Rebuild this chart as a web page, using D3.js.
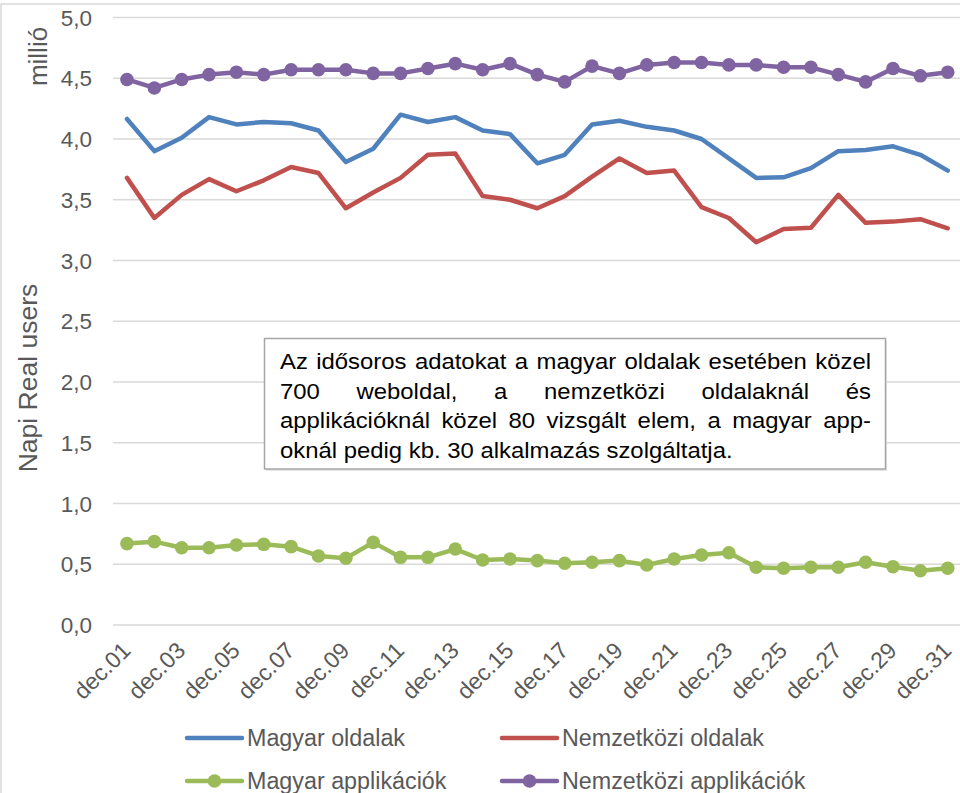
<!DOCTYPE html>
<html><head><meta charset="utf-8">
<script src="https://d3js.org/d3.v7.min.js"></script>
<style>
body{margin:0;background:#fff;}
svg{display:block;font-family:"Liberation Sans",Arial,sans-serif;}
</style></head>
<body><svg id="c" width="960" height="793"></svg>
<script>
const days = ["dec.01","dec.02","dec.03","dec.04","dec.05","dec.06","dec.07","dec.08","dec.09","dec.10",
"dec.11","dec.12","dec.13","dec.14","dec.15","dec.16","dec.17","dec.18","dec.19","dec.20",
"dec.21","dec.22","dec.23","dec.24","dec.25","dec.26","dec.27","dec.28","dec.29","dec.30","dec.31"];
const magyarOldalak = [4.165,3.90,4.01,4.18,4.12,4.14,4.13,4.07,3.81,3.92,4.20,4.14,4.18,4.07,4.04,3.80,3.87,4.12,4.15,4.10,4.07,4.00,3.84,3.68,3.685,3.76,3.90,3.91,3.94,3.87,3.74];
const nemzetkoziOldalak = [3.68,3.35,3.54,3.67,3.57,3.66,3.77,3.72,3.43,3.56,3.68,3.87,3.88,3.53,3.50,3.43,3.53,3.69,3.84,3.72,3.74,3.44,3.35,3.15,3.26,3.27,3.54,3.31,3.32,3.34,3.265];
const magyarApp = [0.67,0.686,0.636,0.636,0.658,0.664,0.645,0.568,0.549,0.68,0.557,0.557,0.625,0.535,0.543,0.53,0.508,0.516,0.53,0.494,0.543,0.576,0.595,0.475,0.467,0.475,0.475,0.516,0.48,0.447,0.467];
const nemzetkoziApp = [4.49,4.42,4.49,4.53,4.55,4.53,4.57,4.57,4.57,4.54,4.54,4.58,4.62,4.57,4.62,4.53,4.47,4.60,4.54,4.61,4.63,4.63,4.61,4.61,4.59,4.59,4.53,4.47,4.58,4.52,4.55];
const yTicks = [0,0.5,1,1.5,2,2.5,3,3.5,4,4.5,5];
const yTitle = "Napi Real users";
const yUnit = "millió";
const noteLines = [
 "Az idősoros adatokat a magyar oldalak esetében közel",
 "700 weboldal, a nemzetközi oldalaknál és",
 "applikációknál közel 80 vizsgált elem, a magyar app-",
 "oknál pedig kb. 30 alkalmazás szolgáltatja."
];

const series = [
 {name:"Magyar oldalak", values:magyarOldalak, color:"#4F81BD", marker:false},
 {name:"Nemzetközi oldalak", values:nemzetkoziOldalak, color:"#C0504D", marker:false},
 {name:"Magyar applikációk", values:magyarApp, color:"#9BBB59", marker:true},
 {name:"Nemzetközi applikációk", values:nemzetkoziApp, color:"#8064A2", marker:true}
];

const svg = d3.select("#c");
const grey = "#595959";

// chart border
svg.append("rect").attr("x",1).attr("y",4).attr("width",980).attr("height",820)
  .attr("fill","none").attr("stroke","#d9d9d9").attr("stroke-width",1.5);

const x = d3.scalePoint().domain(days).range([113.3,961.4]).padding(0.5);
const y = d3.scaleLinear().domain([0,5]).range([625,17.5]);

// gridlines
svg.append("g").selectAll("line").data(yTicks).join("line")
  .attr("x1",113).attr("x2",962).attr("y1",d=>y(d)).attr("y2",d=>y(d))
  .attr("stroke","#d9d9d9").attr("stroke-width",1.5);

// y axis labels
const fmt = d=>d.toFixed(1).replace(".",",");
svg.append("g").selectAll("text").data(yTicks).join("text")
  .attr("x",92).attr("y",d=>y(d)+8).attr("text-anchor","end")
  .attr("font-size",22.5).attr("fill",grey).text(fmt);

// y titles
svg.append("text").attr("transform","translate(37,378) rotate(-90)")
  .attr("text-anchor","middle").attr("font-size",26.5).attr("fill",grey).text(yTitle);
svg.append("text").attr("transform","translate(47,56.5) rotate(-90)")
  .attr("text-anchor","middle").attr("font-size",26).attr("fill",grey).text(yUnit);

// x labels
svg.append("g").selectAll("text").data(days.filter((d,i)=>i%2===0)).join("text")
  .attr("transform",d=>`translate(${x(d)+5},652) rotate(-45)`)
  .attr("text-anchor","end").attr("font-size",23).attr("fill",grey).text(d=>d);

// lines
const line = d3.line().x((d,i)=>x(days[i])).y(d=>y(d));
series.forEach(s=>{
  svg.append("path").datum(s.values).attr("d",line).attr("fill","none")
    .attr("stroke",s.color).attr("stroke-width",4.5).attr("stroke-linejoin","round").attr("stroke-linecap","round");
  if(s.marker){
    svg.append("g").selectAll("circle").data(s.values).join("circle")
      .attr("cx",(d,i)=>x(days[i])).attr("cy",d=>y(d)).attr("r",6.8).attr("fill",s.color);
  }
});

// note box
svg.append("rect").attr("x",266).attr("y",340.5).attr("width",621).attr("height",130.5)
  .attr("fill","#e6e6e6");
svg.append("rect").attr("x",264.5).attr("y",338.5).attr("width",621).attr("height",130.5)
  .attr("fill","#fff").attr("stroke","#a6a6a6").attr("stroke-width",1.5);
const tl = 280, tr = 871, base0 = 369.5, pitch = 29.5, lastW = 453, noteFont = 22.5;
// measure natural width of the last line to find horizontal stretch
const probe = svg.append("text").attr("font-size",noteFont).text(noteLines[noteLines.length-1]);
const sx = lastW / probe.node().getComputedTextLength();
probe.remove();
const noteG = svg.append("g").attr("transform",`translate(${tl},0) scale(${sx},1)`);
const availW = (tr-tl)/sx;
noteLines.forEach((ln,li)=>{
  const words = ln.split(/\s+/);
  const g = noteG.append("text").attr("font-size",noteFont).attr("fill","#000").attr("y",base0+li*pitch);
  if(li===noteLines.length-1){
    g.attr("x",0).text(ln);
  } else {
    const ts = words.map(w=>g.append("tspan").text(w));
    const widths = ts.map(t=>t.node().getComputedTextLength());
    const total = d3.sum(widths);
    const gap = (availW-total)/(words.length-1);
    let cx = 0;
    ts.forEach((t,i)=>{ t.attr("x",cx); cx += widths[i]+gap; });
  }
});

// legend
const leg = [
 {s:series[0], lx:187, ly:738},
 {s:series[1], lx:502, ly:738},
 {s:series[2], lx:187, ly:781},
 {s:series[3], lx:502, ly:781}
];
leg.forEach(l=>{
  svg.append("line").attr("x1",l.lx).attr("x2",l.lx+55).attr("y1",l.ly).attr("y2",l.ly)
    .attr("stroke",l.s.color).attr("stroke-width",4.5).attr("stroke-linecap","round");
  if(l.s.marker) svg.append("circle").attr("cx",l.lx+27.5).attr("cy",l.ly).attr("r",6.8).attr("fill",l.s.color);
  svg.append("text").attr("x",l.lx+60).attr("y",l.ly+8).attr("font-size",23.3).attr("fill",grey).text(l.s.name);
});
</script></body></html>
